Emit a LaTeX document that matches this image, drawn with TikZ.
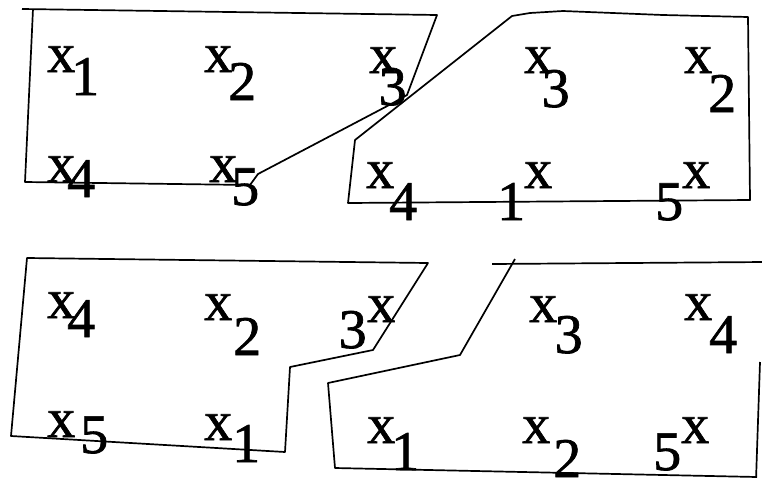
\documentclass[tikz,border=0pt]{standalone}
\usepackage{fontspec}
\setmainfont{Liberation Serif}
\newfontfamily\scanfont[FakeBold=1.2]{Liberation Serif}
\usepackage{tikz}
\newcommand{\xsub}[3]{x\kern#3pt\raisebox{-#2pt}{#1}}
\newcommand{\supx}[3]{#1\kern#3pt\raisebox{#2pt}{x}}

\begin{document}
\begin{tikzpicture}[
  x=1pt,y=-1pt,
  edge/.style={line width=1.7pt,line join=round},
  lab/.style={anchor=base west,inner sep=0pt,font=\scanfont\fontsize{56}{56}\selectfont}
]
  \useasboundingbox (0,0) rectangle (762,477);
  % top left
  \draw[edge] (22,9) -- (437,15) -- (407,95) -- (393,103) -- (258,174)
    -- (250,185) -- (25,182) -- (33,9);
  \node[lab] (a1) at (47,72) {\xsub{1}{23}{-4}};
  \node[lab] (a2) at (204,72) {\xsub{2}{28}{-4}};
  \node[lab] (a3) at (369,73) {\xsub{3}{32}{-18.5}};
  \node[lab] (a4) at (47,182) {\xsub{4}{15}{-8}};
  \node[lab] (a5) at (209,182) {\xsub{5}{23}{-6}};
  % top right
  \draw[edge] (355,140) -- (512,16) -- (530,13) -- (563,11) -- (663,15)
    -- (748,17) -- (750,200) -- (348,203) -- cycle;
  \node[lab] (b3) at (524,73) {\xsub{3}{34}{-10.5}};
  \node[lab] (b2) at (684,73) {\xsub{2}{39}{-4}};
  \node[lab] (b4) at (366,188) {\xsub{4}{32}{-5}};
  \node[lab] (b1) at (497,220) {\supx{1}{32}{-1}};
  \node[lab] (b5) at (655,220) {\supx{5}{32}{-1}};
  % bottom left
  \draw[edge] (27,258) -- (428,263) -- (373,350) -- (290,367) -- (285,452)
    -- (11,436) -- cycle;
  \node[lab] (c4) at (47,318) {\xsub{4}{19}{-8}};
  \node[lab] (c2) at (204,320) {\xsub{2}{35}{1}};
  \node[lab] (c3) at (338.5,348) {\supx{3}{26}{0.5}};
  \node[lab] (c5) at (47,437) {\xsub{5}{16}{5}};
  \node[lab] (c1) at (204,440) {\xsub{1}{22}{0}};
  % bottom right
  \draw[edge] (492,264) -- (765,262);
  \draw[edge] (515,259) -- (460,355) -- (328,383) -- (335,468) -- (757,477);
  \draw[edge] (760,362) -- (756,480);
  \node[lab] (d3) at (529,322) {\xsub{3}{31}{-2.5}};
  \node[lab] (d4) at (684,320) {\xsub{4}{33}{-3}};
  \node[lab] (d1) at (367,443) {\xsub{1}{27}{-4}};
  \node[lab] (d2) at (522,443) {\xsub{2}{34}{3}};
  \node[lab] (d5) at (653,470) {\supx{5}{27}{0}};
\end{tikzpicture}
\end{document}
